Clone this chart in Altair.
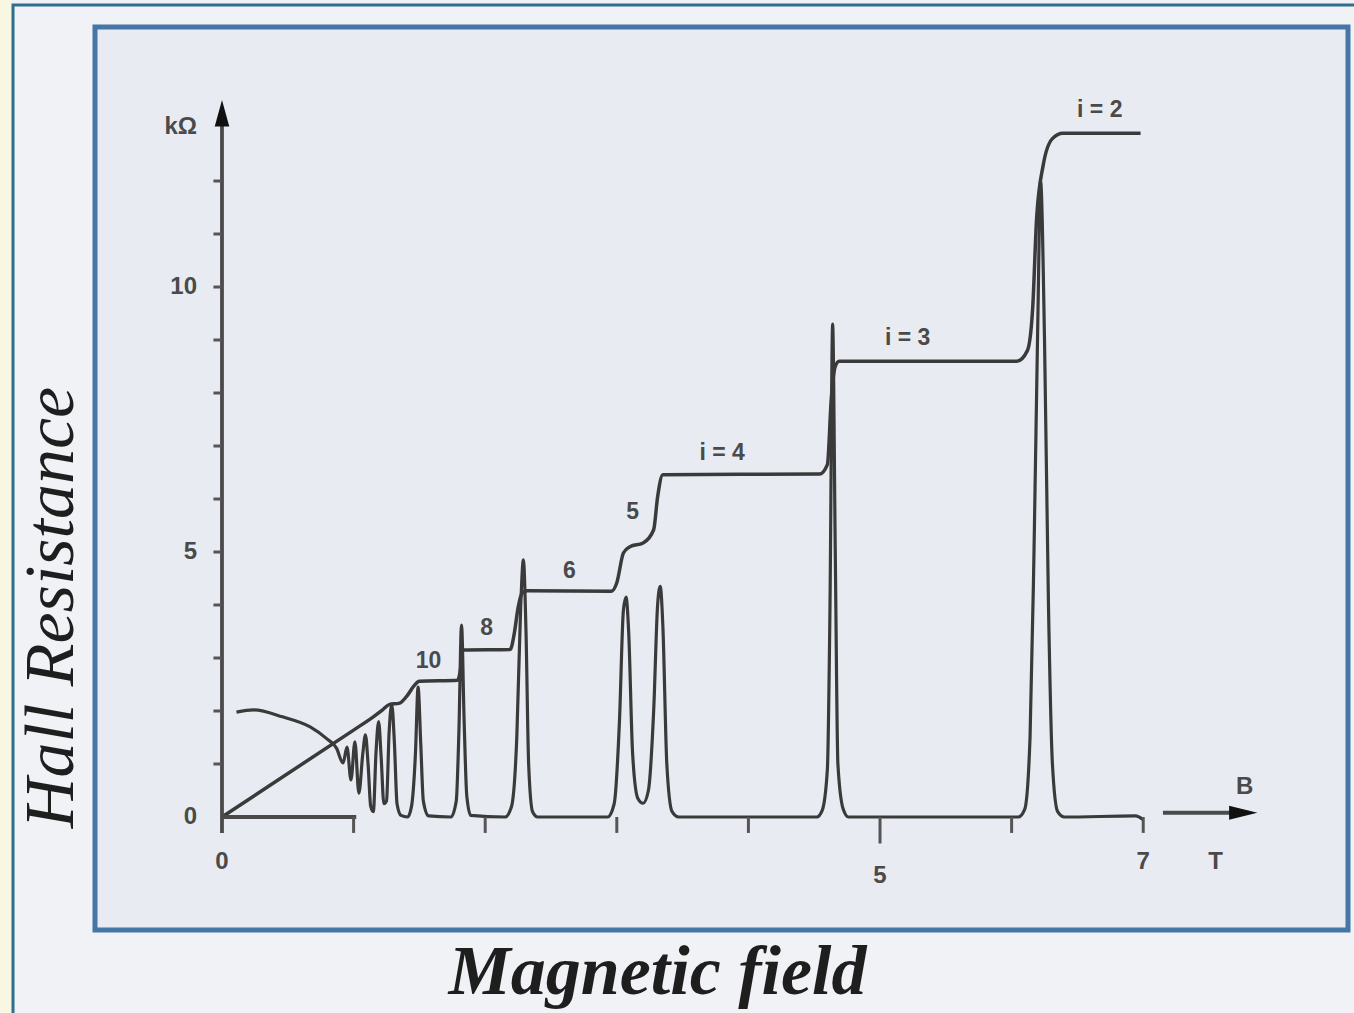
import altair as alt
import pandas as pd

# ---------------- data (B in tesla, R in kilo-ohm) ----------------
hall_B = [0.00, 1.00, 1.15, 1.22, 1.27, 1.35, 1.41, 1.46, 1.50, 1.79, 1.81, 1.83,
          2.19, 2.22, 2.25, 2.28, 2.32, 2.96, 3.00, 3.05, 3.10, 3.20, 3.28, 3.31,
          3.35, 4.54, 4.60, 4.63, 4.66, 4.69, 6.04, 6.12, 6.16, 6.19, 6.24, 6.31,
          6.39, 6.98]
hall_R = [0.00, 1.64, 1.89, 2.02, 2.12, 2.15, 2.30, 2.48, 2.56, 2.58, 2.75, 3.15,
          3.16, 3.45, 3.95, 4.22, 4.27, 4.26, 4.42, 4.98, 5.10, 5.17, 5.42, 6.04,
          6.46, 6.47, 6.65, 7.90, 8.50, 8.60, 8.60, 8.80, 9.60, 11.30, 12.30, 12.80,
          12.90, 12.90]

xx_B = [0.11, 0.24, 0.46, 0.67, 0.80, 0.87, 0.92, 0.95, 0.98, 1.01, 1.04, 1.07,
        1.09, 1.11, 1.13, 1.15, 1.17, 1.19, 1.21, 1.23, 1.25, 1.27, 1.29, 1.31,
        1.33, 1.36, 1.41, 1.44, 1.47, 1.49, 1.51, 1.53, 1.57, 1.74, 1.78, 1.80,
        1.82, 1.84, 1.86, 1.89, 2.15, 2.20, 2.24, 2.27, 2.29, 2.31, 2.33, 2.36,
        2.40, 2.93, 2.98, 3.02, 3.05, 3.07, 3.09, 3.12, 3.16, 3.20, 3.24, 3.28,
        3.31, 3.33, 3.35, 3.38, 3.42, 3.47, 4.52, 4.56, 4.60, 4.62, 4.64, 4.66,
        4.68, 4.72, 4.76, 6.05, 6.10, 6.14, 6.17, 6.20, 6.22, 6.25, 6.28, 6.31,
        6.35, 6.40, 6.94, 7.00]
xx_R = [1.98, 2.02, 1.89, 1.70, 1.47, 1.30, 1.02, 1.32, 0.70, 1.42, 0.45, 1.20,
        1.55, 1.00, 0.20, 0.10, 1.20, 1.80, 1.10, 0.25, 0.30, 1.60, 2.12, 1.40,
        0.25, 0.03, 0.00, 0.20, 1.20, 2.45, 1.40, 0.30, 0.02, 0.00, 0.30, 1.60,
        3.62, 1.80, 0.40, 0.03, 0.00, 0.20, 1.50, 4.00, 4.85, 3.50, 1.00, 0.10,
        0.00, 0.00, 0.25, 1.80, 3.90, 4.15, 3.50, 1.20, 0.35, 0.26, 0.50, 2.00,
        4.00, 4.35, 3.60, 1.00, 0.10, 0.00, 0.00, 0.12, 0.90, 4.00, 9.30, 5.00,
        1.00, 0.15, 0.00, 0.00, 0.15, 1.50, 5.00, 9.50, 12.00, 9.00, 4.00, 1.00,
        0.10, 0.00, 0.02, -0.05]

plateau_labels = ["10", "8", "6", "5", "i = 4", "i = 3", "i = 2"]
plateau_B = [1.57, 2.01, 2.64, 3.12, 3.80, 5.21, 6.67]
plateau_R = [2.94, 3.57, 4.64, 5.75, 6.87, 9.04, 13.34]

y_tick_values = list(range(1, 13))
y_tick_labels = ["0", "5", "10", "kΩ"]
y_tick_label_R = [0, 5, 10, 13.02]

x_tick_values = [1, 2, 3, 4, 5, 6, 7]
x_tick_len = [0.3, 0.3, 0.3, 0.3, 0.5, 0.3, 0.3]
x_tick_labels = ["0", "5", "7", "T"]
x_tick_label_B = [0, 5, 7, 7.55]
x_tick_label_R = [-0.85, -1.12, -0.85, -0.85]

x_title = "Magnetic field"
y_title = "Hall Resistance"

# ---------------- scales ----------------
W, H = 1253, 903
xs = alt.Scale(domain=[-0.965, 8.556], nice=False, zero=False)
ys = alt.Scale(domain=[-2.132, 14.906], nice=False, zero=False)
INK = "#3a3a3a"

hall = pd.DataFrame({"B": hall_B, "R": hall_R})
rxx = pd.DataFrame({"B": xx_B, "R": xx_R})

x_axis = alt.Axis(title=x_title, domain=False, ticks=False, labels=False, grid=False,
                  titleFont="Liberation Serif", titleFontStyle="italic", titleFontWeight="bold",
                  titleFontSize=70, titleColor="#1e1e1e", titleX=562, titleY=63,
                  titleBaseline="alphabetic", titleAlign="center")
y_axis = alt.Axis(title=y_title, domain=False, ticks=False, labels=False, grid=False,
                  titleFont="Liberation Serif", titleFontStyle="italic", titleFontWeight="normal",
                  titleFontSize=70, titleColor="#1e1e1e", titleX=-23, titleY=580,
                  titleBaseline="alphabetic", titleAlign="center")


def X(field):
    return alt.X(field, scale=xs, axis=x_axis, title=x_title)


def Y(field):
    return alt.Y(field, scale=ys, axis=y_axis, title=y_title)


hall_line = alt.Chart(hall).mark_line(color=INK, strokeWidth=3.5, interpolate="monotone").encode(
    x=X("B:Q"), y=Y("R:Q"))

rxx_line = alt.Chart(rxx).mark_line(color=INK, strokeWidth=3.2, interpolate="monotone").encode(
    x=X("B:Q"), y=Y("R:Q"))

# axis lines drawn as rules
axis_lines = pd.DataFrame({
    "x": [0.0, 0.0, 7.15],
    "x2": [0.0, 1.02, 7.80],
    "y": [-0.3, 0.0, 0.08],
    "y2": [13.35, 0.0, 0.08],
})
axes_rules = alt.Chart(axis_lines).mark_rule(color="#4a4a4a", strokeWidth=3.8).encode(
    x=X("x:Q"), x2="x2:Q", y=Y("y:Q"), y2="y2:Q")

xt = pd.DataFrame({"x": x_tick_values, "y": [0.0] * 7, "y2": [-l for l in x_tick_len]})
x_ticks = alt.Chart(xt).mark_rule(color="#555555", strokeWidth=3).encode(
    x=X("x:Q"), y=Y("y:Q"), y2="y2:Q")
yt = pd.DataFrame({"y": y_tick_values, "x": [-0.065] * 12, "x2": [0.0] * 12})
y_ticks = alt.Chart(yt).mark_rule(color="#555555", strokeWidth=3).encode(
    x=X("x:Q"), x2="x2:Q", y=Y("y:Q"))

heads = pd.DataFrame({"x": [0.0], "y": [13.28]})
y_head = alt.Chart(heads).mark_point(shape="M0,-1L0.55,1L-0.55,1Z", size=700, filled=True,
                                     color="#111111", opacity=1).encode(x=X("x:Q"), y=Y("y:Q"))
xheads = pd.DataFrame({"x": [7.76], "y": [0.08]})
x_head = alt.Chart(xheads).mark_point(shape="M1,0L-1,0.5L-1,-0.5Z", size=800, filled=True,
                                      color="#111111", opacity=1).encode(x=X("x:Q"), y=Y("y:Q"))

TXT = dict(font="Liberation Sans", fontWeight="bold", fontSize=24, color="#4a4a4a", baseline="middle")

ylab = pd.DataFrame({"t": y_tick_labels, "x": [-0.19] * 4, "y": y_tick_label_R})
y_labels = alt.Chart(ylab).mark_text(align="right", **TXT).encode(x=X("x:Q"), y=Y("y:Q"), text="t:N")

xlab = pd.DataFrame({"t": x_tick_labels, "x": x_tick_label_B, "y": x_tick_label_R})
x_labels = alt.Chart(xlab).mark_text(align="center", **TXT).encode(x=X("x:Q"), y=Y("y:Q"), text="t:N")

blab = pd.DataFrame({"t": ["B"], "x": [7.77], "y": [0.57]})
b_label = alt.Chart(blab).mark_text(align="center", **TXT).encode(x=X("x:Q"), y=Y("y:Q"), text="t:N")

plab = pd.DataFrame({"t": plateau_labels, "x": plateau_B, "y": plateau_R})
p_labels = alt.Chart(plab).mark_text(align="center", **{**TXT, "fontSize": 23}).encode(
    x=X("x:Q"), y=Y("y:Q"), text="t:N")

# decorative outer frame of the figure
one = pd.DataFrame({"k": [0]})
yellow_strip = alt.Chart(one).mark_rect(fill="#f8f8e2").encode(
    x=alt.value(-95), x2=alt.value(-83), y=alt.value(-27), y2=alt.value(990))
outer_frame = alt.Chart(one).mark_rect(fillOpacity=0, stroke="#2f6e8c", strokeWidth=3).encode(
    x=alt.value(-82), x2=alt.value(1300), y=alt.value(-22), y2=alt.value(1010))

chart = alt.layer(
    hall_line, rxx_line, axes_rules, x_ticks, y_ticks, y_head, x_head,
    y_labels, x_labels, b_label, p_labels, yellow_strip, outer_frame,
).properties(
    width=W, height=H,
    autosize=alt.AutoSizeParams(type="none"),
    padding={"left": 95, "top": 27, "right": 6, "bottom": 83},
    background="#f0f2f5",
).configure_view(
    fill="#e8ecf2", stroke="#4676a8", strokeWidth=5,
)

chart.save("out.html", embed_options={"renderer": "svg", "actions": False})
